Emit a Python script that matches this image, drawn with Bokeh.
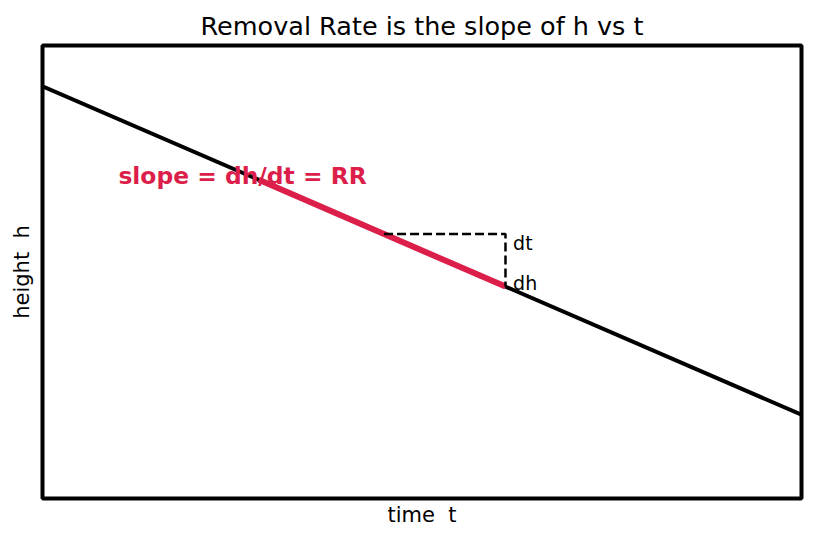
from bokeh.plotting import figure
from bokeh.models import Range1d, Label, FixedTicker
from bokeh.embed import file_html
from bokeh.resources import INLINE

# data
line_t = [0, 10]
line_h = [9.1, 1.85]
seg_t = [2.85, 6.1]
slope = (line_h[1] - line_h[0]) / (line_t[1] - line_t[0])
def h_at(t):
    return line_h[0] + slope * t
seg_h = [h_at(t) for t in seg_t]
dash_t0 = 4.5
dash_h_t = [dash_t0, seg_t[1], seg_t[1]]
dash_h_h = [h_at(dash_t0), h_at(dash_t0), seg_h[1]]

FONT = "DejaVu Sans"
RED = "#dc1e4a"

p = figure(width=815, height=540, output_backend="svg", toolbar_location=None,
           x_range=Range1d(0, 10), y_range=Range1d(0, 10),
           min_border_left=42, min_border_right=14, min_border_top=45, min_border_bottom=42)
p.title.text = "Removal Rate is the slope of h vs t"
p.title.align = "center"
p.title.text_font = FONT
p.title.text_font_style = "normal"
p.title.text_font_size = "25.5px"
p.title.text_color = "black"
p.title.standoff = 10

p.xgrid.visible = False
p.ygrid.visible = False
p.outline_line_color = "black"
p.outline_line_width = 4
p.background_fill_color = "white"
p.border_fill_color = "white"

for ax in (p.xaxis, p.yaxis):
    ax.ticker = FixedTicker(ticks=[])
    ax.major_tick_line_color = None
    ax.minor_tick_line_color = None
    ax.axis_line_color = None
    ax.axis_label_text_font = FONT
    ax.axis_label_text_font_style = "normal"
    ax.axis_label_text_font_size = "21px"
    ax.axis_label_text_color = "black"
p.xaxis.axis_label_standoff = 4
p.yaxis.axis_label_standoff = 9
p.xaxis.axis_label = "time\u00a0 t"
p.yaxis.axis_label = "height\u00a0 h"

p.line(line_t, line_h, line_color="black", line_width=4)
p.line(seg_t, seg_h, line_color=RED, line_width=6)
p.line(dash_h_t, dash_h_h, line_color="black", line_width=2.5, line_dash="9 4")

p.add_layout(Label(x=1.0, y=7.12, text="slope = dh/dt = RR", text_font=FONT,
                   text_font_style="bold", text_font_size="23.4px", text_color=RED,
                   text_baseline="middle", text_align="left"))
p.add_layout(Label(x=6.2, y=5.65, text="dt", text_font=FONT, text_font_size="19px",
                   text_color="black", text_baseline="middle"))
p.add_layout(Label(x=6.2, y=4.75, text="dh", text_font=FONT, text_font_size="19px",
                   text_color="black", text_baseline="middle"))

open("out.html", "w").write(file_html(p, INLINE))
